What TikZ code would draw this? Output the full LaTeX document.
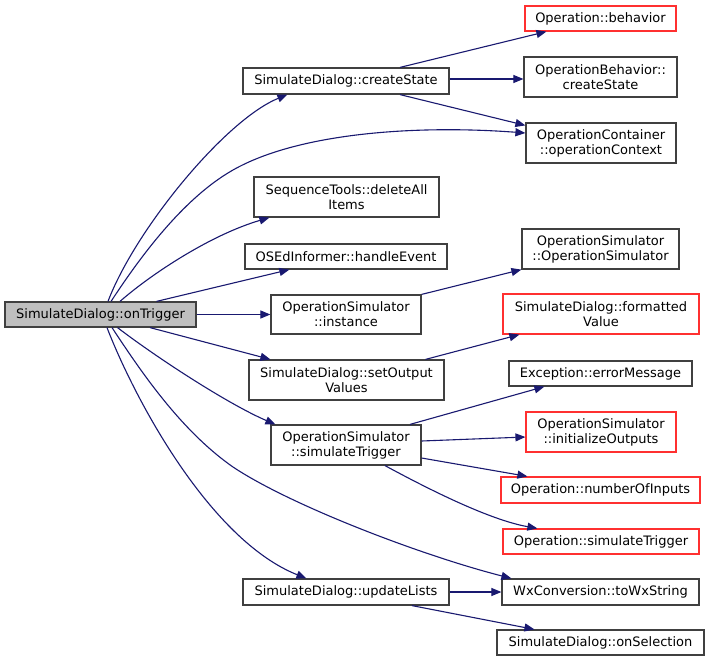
\documentclass[tikz,border=0pt]{standalone}
\usepackage{fontspec}
\setmainfont{DejaVu Sans}
\usetikzlibrary{arrows.meta}
\definecolor{edgeblue}{HTML}{191970}
\definecolor{boxgrey}{HTML}{404040}
\definecolor{rootfill}{HTML}{BFBFBF}
\definecolor{trunc}{HTML}{FF3030}
\begin{document}
\begin{tikzpicture}[x=1pt,y=-1pt,
  fn/.style={draw=boxgrey, line width=1.2pt, fill=white, inner sep=0pt, align=center,
             font=\fontsize{13}{15}\selectfont},
  rootfn/.style={fn, fill=rootfill},
  truncfn/.style={fn, draw=trunc},
  sz/.style 2 args={minimum width=#1pt, minimum height=#2pt},
  call/.style={draw=edgeblue, line width=1.1pt, -{Triangle[length=10pt,width=8pt]}}]
\fill[white] (0,0) rectangle (709,661);
\useasboundingbox (0,0) rectangle (709,661);

% root
\node[rootfn, sz={191}{25}] (root) at (100.5,314.5) {SimulateDialog::onTrigger};

% middle column
\node[fn, sz={206}{26}] (cs) at (346,81) {SimulateDialog::createState};
\node[fn, sz={185}{40}] (del) at (346.5,197) {SequenceTools::deleteAll\\Items};
\node[fn, sz={202}{25}] (he) at (346,256.5) {OSEdInformer::handleEvent};
\node[fn, sz={150}{39}] (inst) at (346,314.5) {OperationSimulator\\::instance};
\node[fn, sz={195}{40}] (so) at (346.5,380) {SimulateDialog::setOutput\\Values};
\node[fn, sz={150}{40}] (st) at (346,445) {OperationSimulator\\::simulateTrigger};
\node[fn, sz={206}{26}] (ul) at (346,592) {SimulateDialog::updateLists};

% right column
\node[truncfn, sz={151}{25}] (beh) at (600.5,18.5) {Operation::behavior};
\node[fn, sz={153}{40}] (obc) at (600.5,77) {OperationBehavior::\\createState};
\node[fn, sz={150}{40}] (oc) at (601,143) {OperationContainer\\::operationContext};
\node[fn, sz={157}{40}] (osc) at (600.5,249) {OperationSimulator\\::OperationSimulator};
\node[truncfn, sz={196}{40}] (fv) at (601,314) {SimulateDialog::formatted\\Value};
\node[fn, sz={183}{25}] (em) at (600.5,373.5) {Exception::errorMessage};
\node[truncfn, sz={150}{40}] (io) at (601,432) {OperationSimulator\\::initializeOutputs};
\node[truncfn, sz={199}{26}] (ni) at (600.5,490) {Operation::numberOfInputs};
\node[truncfn, sz={196}{25}] (ost) at (601,541.5) {Operation::simulateTrigger};
\node[fn, sz={197}{26}] (wx) at (600.5,592) {WxConversion::toWxString};
\node[fn, sz={207}{25}] (sel) at (600.5,642.5) {SimulateDialog::onSelection};

% edges from root
\draw[call] ([xshift=7.5pt]root.north) .. controls (135,230) and (225,120) .. ([xshift=45pt]cs.south west);
\draw[call] ([xshift=10.5pt]root.north) .. controls (135,265) and (180,200) .. (233,170)
            .. controls (300,132) and (420,125) .. ([yshift=10pt]oc.west);
\draw[call] ([xshift=19.5pt]root.north) .. controls (150,275) and (210,235) .. ([xshift=16pt]del.south west);
\draw[call] ([xshift=56pt]root.north) -- ([xshift=45pt]he.south west);
\draw[call] (root.east) -- (inst.west);
\draw[call] ([xshift=49.5pt]root.south) -- ([xshift=22pt]so.north west);
\draw[call] ([xshift=17pt]root.south) .. controls (160,360) and (230,405) .. ([xshift=5pt]st.north west);
\draw[call] ([xshift=11.5pt]root.south) .. controls (140,370) and (180,430) .. (233,467)
            .. controls (290,505) and (420,555) .. ([xshift=10pt]wx.north west);
\draw[call] ([xshift=6.5pt]root.south) .. controls (135,400) and (210,540) .. ([xshift=64pt]ul.north west);

% edges from createState
\draw[call] ([xshift=54pt]cs.north) -- ([xshift=22pt]beh.south west);
\draw[call] ([yshift=2pt]cs.east) -- ([yshift=-2pt]obc.west);
\draw[call] ([xshift=54pt]cs.south) -- ([yshift=-3pt]oc.north west);

% other edges
\draw[call] (inst.north east) -- (osc.south west);
\draw[call] ([xshift=79pt]so.north) -- ([xshift=17pt]fv.south west);
\draw[call] ([xshift=64pt]st.north) -- ([xshift=36pt]em.south west);
\draw[call] ([yshift=4pt]st.east) -- ([yshift=-5pt]io.west);
\draw[call] ([yshift=-13pt]st.east) -- ([xshift=27pt]ni.north west);
\draw[call] ([xshift=39pt]st.south) .. controls (430,490) and (490,520) .. ([xshift=35pt]ost.north west);
\draw[call] (ul.east) -- (wx.west);
\draw[call] ([xshift=66pt]ul.south) -- ([xshift=38pt]sel.north west);
\end{tikzpicture}
\end{document}
